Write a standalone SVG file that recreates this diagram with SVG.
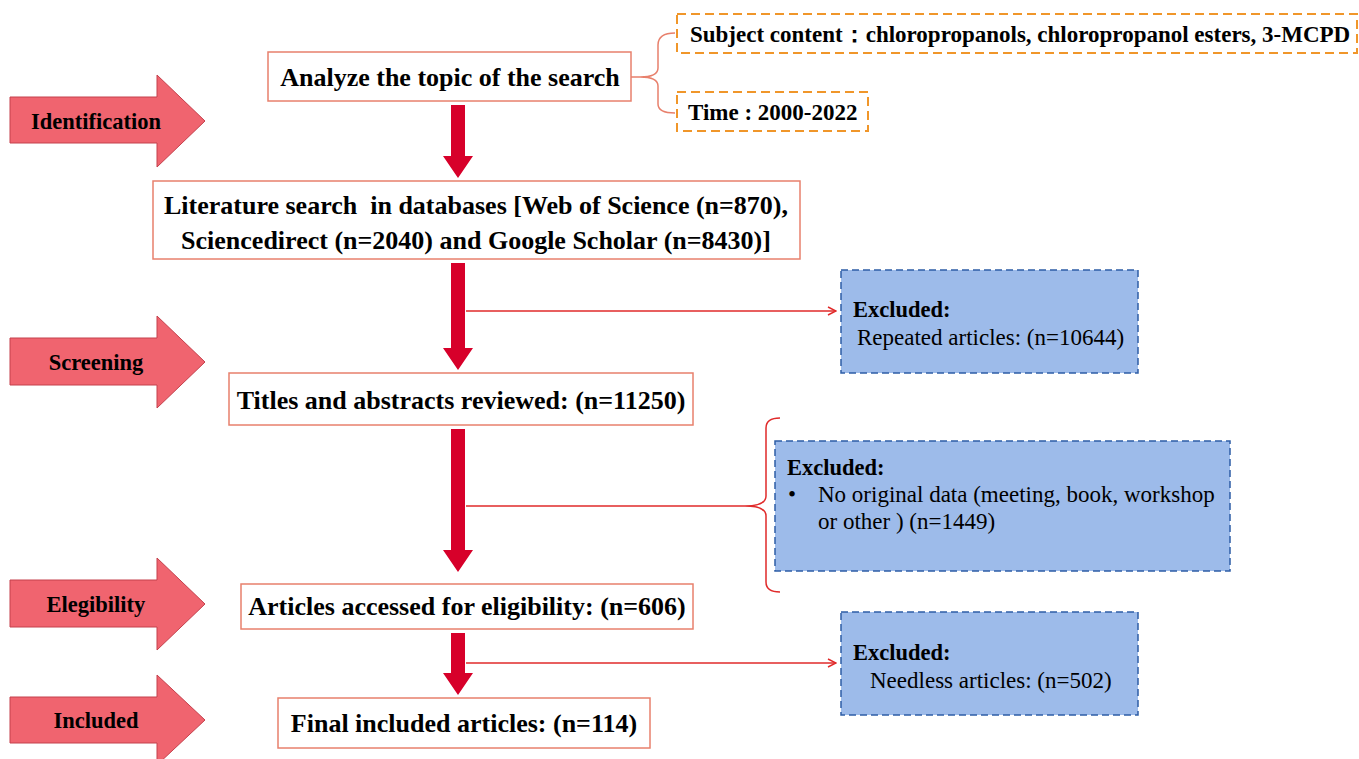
<svg xmlns="http://www.w3.org/2000/svg" width="1359" height="759" viewBox="0 0 1359 759">
<defs>
<style>
.stage{fill:#f0646f;stroke:#c4404c;stroke-width:1}
.stxt{font-family:"Liberation Serif",serif;font-weight:bold;font-size:22.5px;fill:#000;text-anchor:middle;dominant-baseline:central}
.box{fill:#fff;stroke:#e8806c;stroke-width:1.5}
.btxt{font-family:"Liberation Serif",serif;font-weight:bold;font-size:26px;fill:#000;text-anchor:middle;dominant-baseline:central}
.obox{fill:#fff;stroke:#f0962a;stroke-width:2;stroke-dasharray:9,5}
.otxt{font-family:"Liberation Serif",serif;font-weight:bold;font-size:23px;fill:#000;dominant-baseline:central}
.xbox{fill:#9dbbea;stroke:#2e5ea6;stroke-width:1.5;stroke-dasharray:7,4}
.xb{font-family:"Liberation Serif",serif;font-weight:bold;font-size:22.5px;fill:#000;dominant-baseline:central}
.xn{font-family:"Liberation Serif",serif;font-size:23px;fill:#000;dominant-baseline:central}
.thick{fill:#d7002a}
.thin{fill:none;stroke:#e02a2a;stroke-width:1.5}
</style>
<marker id="open" viewBox="0 0 10 10" refX="9" refY="5" markerWidth="10" markerHeight="10" markerUnits="userSpaceOnUse" orient="auto">
<path d="M1,1 L9,5 L1,9" fill="none" stroke="#e02a2a" stroke-width="1.5"/>
</marker>
</defs>
<rect width="1359" height="759" fill="#fff"/>

<g id="stage-identification">
<path class="stage" d="M10,97 H157 V75 L205,121 L157,167 V143 H10 Z"/>
<text class="stxt" x="96" y="121">Identification</text>
</g>
<g id="stage-screening">
<path class="stage" d="M10,338 H157 V316 L205,362 L157,408 V385 H10 Z"/>
<text class="stxt" x="96" y="362">Screening</text>
</g>
<g id="stage-elegibility">
<path class="stage" d="M10,580 H157 V558 L205,604 L157,650 V627 H10 Z"/>
<text class="stxt" x="96" y="604">Elegibility</text>
</g>
<g id="stage-included">
<path class="stage" d="M10,697 H157 V675 L205,720 L157,765 V743 H10 Z"/>
<text class="stxt" x="96" y="720">Included</text>
</g>

<g id="connectors">
<path class="thick" d="M451,105 H465 V156 H473 L458,178 L443,156 H451 Z"/>
<path class="thick" d="M451,263 H465 V348 H473 L458,370 L443,348 H451 Z"/>
<path class="thick" d="M451,429 H465 V550 H473 L458,572 L443,550 H451 Z"/>
<path class="thick" d="M451,633 H465 V673 H473 L458,695 L443,673 H451 Z"/>
<line class="thin" x1="466" y1="311" x2="836" y2="311" marker-end="url(#open)"/>
<line class="thin" x1="466" y1="663" x2="836" y2="663" marker-end="url(#open)"/>
<line class="thin" x1="466" y1="506" x2="745" y2="506"/>
<path class="thin" d="M780,418 Q766,418 766,428 L766,496 Q766,506 745,506 Q766,506 766,516 L766,582 Q766,592 780,592"/>
<path fill="none" stroke="#e8806c" stroke-width="1.5" d="M631,77 H640 M675,33 Q658,33 658,45 L658,68 Q658,77 640,77 Q658,77 658,86 L658,104 Q658,113 675,113"/>
</g>

<g id="node-analyze">
<rect class="box" x="268" y="52" width="363" height="49"/>
<text class="btxt" x="450" y="77">Analyze the topic of the search</text>
</g>
<g id="node-subject">
<rect class="obox" x="677" y="14" width="680" height="39"/>
<text class="otxt" x="690" y="34">Subject content：chloropropanols, chloropropanol esters, 3-MCPD</text>
</g>
<g id="node-time">
<rect class="obox" x="677" y="92" width="191" height="39"/>
<text class="otxt" x="688" y="112">Time : 2000-2022</text>
</g>
<g id="node-literature">
<rect class="box" x="153" y="181" width="647" height="78"/>
<text class="btxt" x="476" y="205" style="white-space:pre">Literature search  in databases [Web of Science (n=870),</text>
<text class="btxt" x="476" y="240">Sciencedirect (n=2040) and Google Scholar (n=8430)]</text>
</g>
<g id="node-excluded1">
<rect class="xbox" x="841" y="270" width="297" height="103"/>
<text class="xb" x="853" y="309">Excluded:</text>
<text class="xn" x="857" y="337">Repeated articles: (n=10644)</text>
</g>
<g id="node-titles">
<rect class="box" x="229" y="373" width="464" height="52"/>
<text class="btxt" x="461" y="400">Titles and abstracts reviewed: (n=11250)</text>
</g>
<g id="node-excluded2">
<rect class="xbox" x="775" y="441" width="455" height="130"/>
<text class="xb" x="787" y="467">Excluded:</text>
<text class="xn" x="788" y="494">•</text>
<text class="xn" x="818" y="494">No original data (meeting, book, workshop</text>
<text class="xn" x="818" y="521">or other ) (n=1449)</text>
</g>
<g id="node-articles">
<rect class="box" x="241" y="584" width="452" height="45"/>
<text class="btxt" x="467" y="606">Articles accessed for eligibility: (n=606)</text>
</g>
<g id="node-excluded3">
<rect class="xbox" x="841" y="612" width="297" height="103"/>
<text class="xb" x="853" y="652">Excluded:</text>
<text class="xn" x="870" y="680">Needless articles: (n=502)</text>
</g>
<g id="node-final">
<rect class="box" x="278" y="698" width="372" height="50"/>
<text class="btxt" x="464" y="723">Final included articles: (n=114)</text>
</g>
</svg>
